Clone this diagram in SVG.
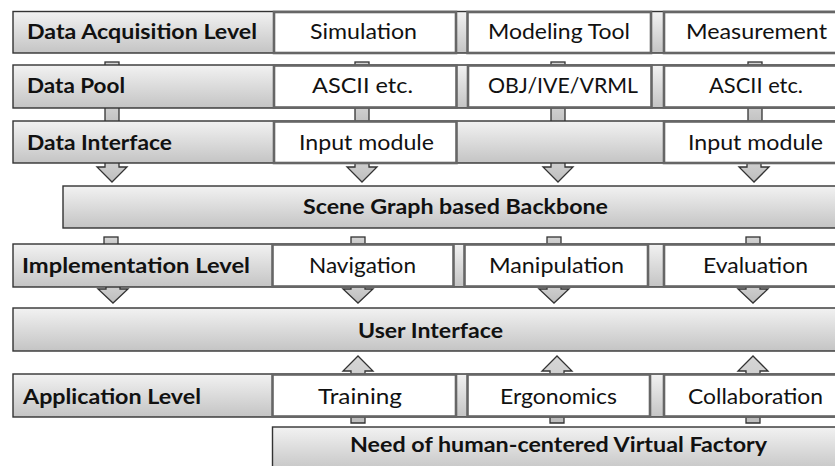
<svg xmlns="http://www.w3.org/2000/svg" width="835" height="466" viewBox="0 0 835 466">
  <defs>
    <linearGradient id="grayFill" x1="0" y1="0" x2="0" y2="1">
      <stop offset="0" stop-color="#f2f2f2"/>
      <stop offset="1" stop-color="#c4c4c4"/>
    </linearGradient>
    <linearGradient id="arrowFill" x1="0" y1="0" x2="0" y2="1">
      <stop offset="0" stop-color="#d6d6d6"/>
      <stop offset="1" stop-color="#bdbdbd"/>
    </linearGradient>
    <style>
      .band { fill: url(#grayFill); stroke: #333333; stroke-width: 1.4; }
      .cell { fill: #ffffff; stroke: #666666; stroke-width: 2.6; }
      .arrow { fill: url(#arrowFill); stroke: #333333; stroke-width: 1.3; stroke-linejoin: miter; }
      .lbl { font-family: Lato, "Liberation Sans", sans-serif; font-size: 21px; font-weight: bold; fill: #111111; }
      .txt { font-family: Lato, "Liberation Sans", sans-serif; font-size: 21px; fill: #111111; }
    </style>
  </defs>
  <rect width="835" height="466" fill="#ffffff"/>

  <!-- connectors: block arrows, drawn first so the boxes hide their ends -->
  <g id="connectors">
    <!-- Data Acquisition -> Data Pool -->
    <rect class="arrow" x="105" y="62" width="14" height="12"/>
    <rect class="arrow" x="355" y="62" width="14" height="12"/>
    <rect class="arrow" x="551" y="62" width="14" height="12"/>
    <rect class="arrow" x="748" y="62" width="14" height="12"/>
    <!-- Data Pool -> Data Interface -->
    <rect class="arrow" x="105" y="100" width="14" height="28"/>
    <rect class="arrow" x="355" y="100" width="14" height="28"/>
    <rect class="arrow" x="551" y="100" width="14" height="28"/>
    <rect class="arrow" x="748" y="100" width="14" height="28"/>
    <!-- Data Interface -> Backbone -->
    <path class="arrow" d="M105,155 H119 V167 H127 L112,182 L97,167 H105 Z"/>
    <path class="arrow" d="M355,155 H369 V167 H377 L362,182 L347,167 H355 Z"/>
    <path class="arrow" d="M551,155 H565 V167 H573 L558,182 L543,167 H551 Z"/>
    <path class="arrow" d="M747,155 H761 V167 H769 L754,182 L739,167 H747 Z"/>
    <!-- Backbone -> Implementation Level -->
    <rect class="arrow" x="104" y="237" width="14" height="12"/>
    <rect class="arrow" x="351" y="237" width="14" height="12"/>
    <rect class="arrow" x="547" y="237" width="14" height="12"/>
    <rect class="arrow" x="746" y="237" width="14" height="12"/>
    <!-- Implementation Level -> User Interface -->
    <path class="arrow" d="M106,280 H120 V289 H128 L113,303 L98,289 H106 Z"/>
    <path class="arrow" d="M351,280 H365 V289 H373 L358,303 L343,289 H351 Z"/>
    <path class="arrow" d="M547,280 H561 V289 H569 L554,303 L539,289 H547 Z"/>
    <path class="arrow" d="M746,280 H760 V289 H768 L753,303 L738,289 H746 Z"/>
    <!-- Need of human-centered Virtual Factory -> Application Level -> User Interface -->
    <path class="arrow" d="M351,423 V371 H343 L358,356 L373,371 H365 V423 Z"/>
    <path class="arrow" d="M550,423 V371 H542 L557,356 L572,371 H564 V423 Z"/>
    <path class="arrow" d="M746,423 V371 H738 L753,356 L768,371 H760 V423 Z"/>
  </g>

  <!-- Data Acquisition Level -->
  <g id="row-acquisition">
    <rect class="band" x="13" y="11.5" width="840" height="41.5"/>
    <rect class="cell" x="274" y="12" width="182" height="41"/>
    <rect class="cell" x="467.5" y="12" width="183.5" height="41"/>
    <rect class="cell" x="664" y="12" width="190" height="41"/>
    <text class="lbl" x="27" y="39" textLength="230" lengthAdjust="spacingAndGlyphs">Data Acquisition Level</text>
    <text class="txt" x="310" y="39" textLength="107" lengthAdjust="spacingAndGlyphs">Simulation</text>
    <text class="txt" x="488" y="39" textLength="142" lengthAdjust="spacingAndGlyphs">Modeling Tool</text>
    <text class="txt" x="686" y="39" textLength="141" lengthAdjust="spacingAndGlyphs">Measurement</text>
  </g>

  <!-- Data Pool -->
  <g id="row-pool">
    <rect class="band" x="13" y="65" width="840" height="43"/>
    <rect class="cell" x="274" y="65.5" width="182.5" height="42"/>
    <rect class="cell" x="468" y="65.5" width="183.5" height="42"/>
    <rect class="cell" x="664" y="65.5" width="190" height="42"/>
    <text class="lbl" x="27" y="92.5" textLength="98" lengthAdjust="spacingAndGlyphs">Data Pool</text>
    <text class="txt" x="312" y="92.5" textLength="101" lengthAdjust="spacingAndGlyphs">ASCII etc.</text>
    <text class="txt" x="488" y="92.5" textLength="150" lengthAdjust="spacingAndGlyphs">OBJ/IVE/VRML</text>
    <text class="txt" x="709" y="92.5" textLength="94" lengthAdjust="spacingAndGlyphs">ASCII etc.</text>
  </g>

  <!-- Data Interface -->
  <g id="row-interface">
    <rect class="band" x="13" y="121" width="840" height="42"/>
    <rect class="cell" x="274" y="121.5" width="182.5" height="41.5"/>
    <rect class="cell" x="664" y="121.5" width="190" height="41.5"/>
    <text class="lbl" x="27" y="150" textLength="145" lengthAdjust="spacingAndGlyphs">Data Interface</text>
    <text class="txt" x="299" y="150" textLength="135" lengthAdjust="spacingAndGlyphs">Input module</text>
    <text class="txt" x="688" y="150" textLength="135" lengthAdjust="spacingAndGlyphs">Input module</text>
  </g>

  <!-- Scene Graph based Backbone -->
  <g id="backbone">
    <rect class="band" x="63" y="186" width="790" height="42"/>
    <text class="lbl" x="303" y="214" textLength="305" lengthAdjust="spacingAndGlyphs">Scene Graph based Backbone</text>
  </g>

  <!-- Implementation Level -->
  <g id="row-implementation">
    <rect class="band" x="13" y="244" width="840" height="43"/>
    <rect class="cell" x="272.5" y="244.5" width="181" height="42"/>
    <rect class="cell" x="464.5" y="244.5" width="183.5" height="42"/>
    <rect class="cell" x="664" y="244.5" width="190" height="42"/>
    <text class="lbl" x="22" y="272.5" textLength="228" lengthAdjust="spacingAndGlyphs">Implementation Level</text>
    <text class="txt" x="309" y="272.5" textLength="107" lengthAdjust="spacingAndGlyphs">Navigation</text>
    <text class="txt" x="489" y="272.5" textLength="135" lengthAdjust="spacingAndGlyphs">Manipulation</text>
    <text class="txt" x="703" y="272.5" textLength="105" lengthAdjust="spacingAndGlyphs">Evaluation</text>
  </g>

  <!-- User Interface -->
  <g id="user-interface">
    <rect class="band" x="13" y="308" width="840" height="43"/>
    <text class="lbl" x="358" y="337.5" textLength="145" lengthAdjust="spacingAndGlyphs">User Interface</text>
  </g>

  <!-- Application Level -->
  <g id="row-application">
    <rect class="band" x="13" y="374" width="840" height="43"/>
    <rect class="cell" x="272.5" y="374.5" width="183.5" height="42"/>
    <rect class="cell" x="467.5" y="374.5" width="182.5" height="42"/>
    <rect class="cell" x="664" y="374.5" width="190" height="42"/>
    <text class="lbl" x="23" y="403.5" textLength="178" lengthAdjust="spacingAndGlyphs">Application Level</text>
    <text class="txt" x="318" y="403.5" textLength="84" lengthAdjust="spacingAndGlyphs">Training</text>
    <text class="txt" x="500" y="403.5" textLength="117" lengthAdjust="spacingAndGlyphs">Ergonomics</text>
    <text class="txt" x="688" y="403.5" textLength="135" lengthAdjust="spacingAndGlyphs">Collaboration</text>
  </g>

  <!-- Need of human-centered Virtual Factory -->
  <g id="need">
    <rect class="band" x="272.5" y="427" width="580" height="45"/>
    <text class="lbl" x="350" y="452" textLength="417" lengthAdjust="spacingAndGlyphs">Need of human-centered Virtual Factory</text>
  </g>
</svg>
